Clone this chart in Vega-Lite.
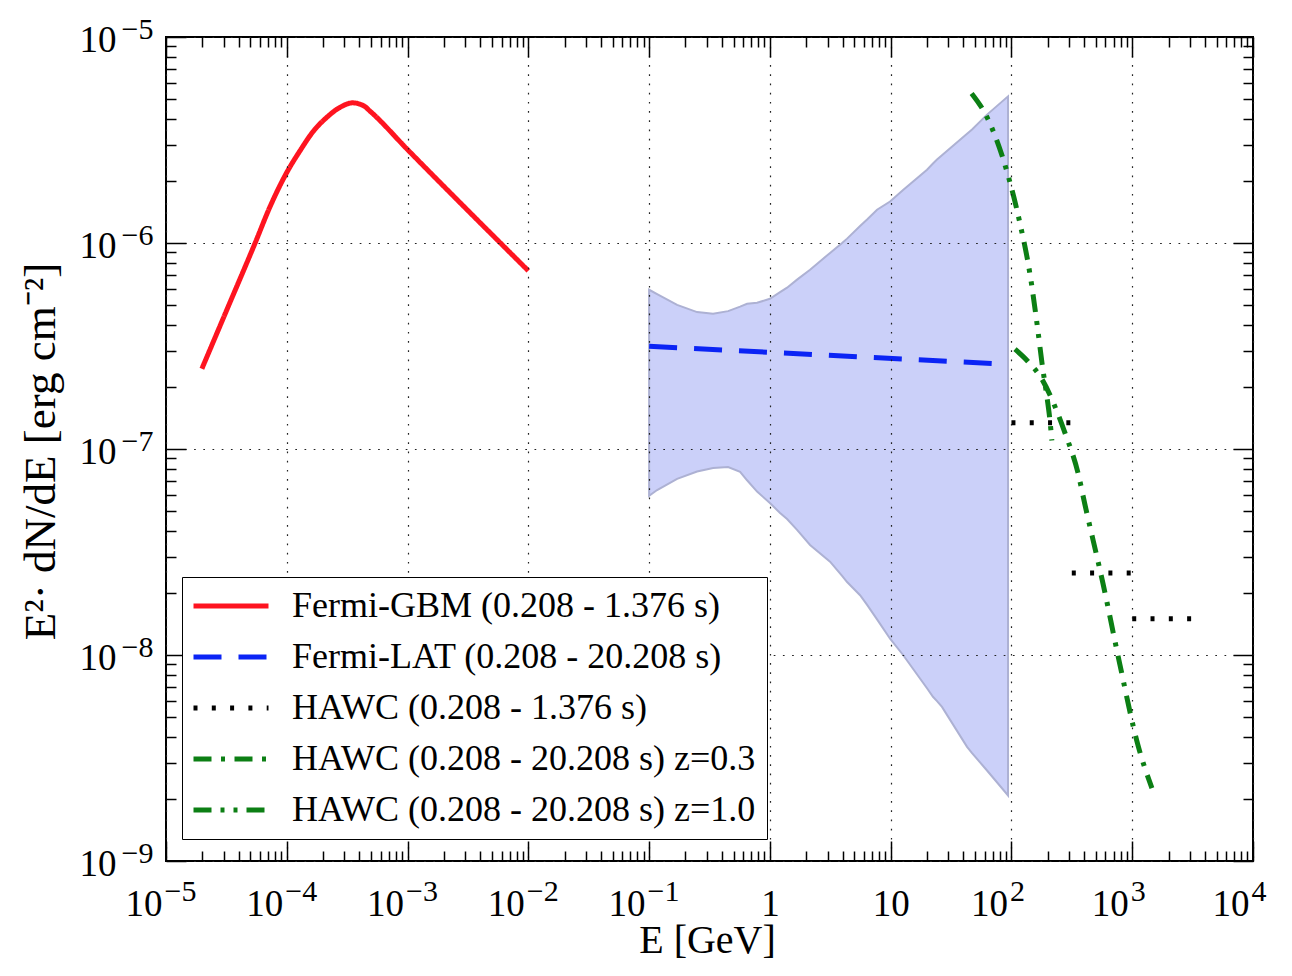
{
  "$schema": "https://vega.github.io/schema/vega-lite/v6.json",
  "width": 1087,
  "height": 824,
  "autosize": {"type": "none"},
  "padding": {"left": 166, "top": 37, "right": 39, "bottom": 115},
  "background": "white",
  "config": {
    "font": "Liberation Serif",
    "view": {"stroke": "black", "strokeWidth": 2},
    "axis": {"labelColor": "black", "titleColor": "black", "tickColor": "black", "tickWidth": 1.5, "domain": false},
    "legend": {
      "orient": "none", "legendX": 16, "legendY": 540,
      "labelFontSize": 36, "labelLimit": 0, "labelColor": "black",
      "symbolType": "M-7.5,0H7.5", "symbolSize": 100, "symbolStrokeWidth": 5,
      "symbolOffset": 20, "labelOffset": 43, "rowPadding": 15, "padding": 11,
      "strokeColor": "black", "fillColor": "white", "cornerRadius": 0
    }
  },
  "datasets": {
    "band": [
      {"E": 0.1, "hi": 5.93e-7, "lo": 5.92e-8},
      {"E": 0.1165, "hi": 5.65e-7, "lo": 6.32e-8},
      {"E": 0.1705, "hi": 5.01e-7, "lo": 7.16e-8},
      {"E": 0.2496, "hi": 4.62e-7, "lo": 7.77e-8},
      {"E": 0.3385, "hi": 4.53e-7, "lo": 8.09e-8},
      {"E": 0.4508, "hi": 4.67e-7, "lo": 8.18e-8},
      {"E": 0.5668, "hi": 4.91e-7, "lo": 7.74e-8},
      {"E": 0.6474, "hi": 5.07e-7, "lo": 7.05e-8},
      {"E": 0.7833, "hi": 5.13e-7, "lo": 6.21e-8},
      {"E": 1.0, "hi": 5.36e-7, "lo": 5.47e-8},
      {"E": 1.214, "hi": 5.77e-7, "lo": 4.89e-8},
      {"E": 1.388, "hi": 6.07e-7, "lo": 4.57e-8},
      {"E": 1.679, "hi": 6.64e-7, "lo": 4.05e-8},
      {"E": 2.151, "hi": 7.42e-7, "lo": 3.42e-8},
      {"E": 3.149, "hi": 8.95e-7, "lo": 2.84e-8},
      {"E": 3.962, "hi": 1.0e-6, "lo": 2.42e-8},
      {"E": 4.357, "hi": 1.05e-6, "lo": 2.26e-8},
      {"E": 5.581, "hi": 1.21e-6, "lo": 1.95e-8},
      {"E": 6.383, "hi": 1.30e-6, "lo": 1.75e-8},
      {"E": 7.714, "hi": 1.45e-6, "lo": 1.49e-8},
      {"E": 9.886, "hi": 1.59e-6, "lo": 1.20e-8},
      {"E": 12.67, "hi": 1.81e-6, "lo": 1.0e-8},
      {"E": 20.0, "hi": 2.27e-6, "lo": 6.90e-9},
      {"E": 22.4, "hi": 2.43e-6, "lo": 6.27e-9},
      {"E": 24.2, "hi": 2.54e-6, "lo": 5.97e-9},
      {"E": 26.6, "hi": 2.67e-6, "lo": 5.60e-9},
      {"E": 42.9, "hi": 3.39e-6, "lo": 3.58e-9},
      {"E": 47.2, "hi": 3.56e-6, "lo": 3.34e-9},
      {"E": 62.8, "hi": 4.20e-6, "lo": 2.75e-9},
      {"E": 93.7, "hi": 5.15e-6, "lo": 2.08e-9}
    ],
    "lines": [
      {"s": "Fermi-GBM (0.208 - 1.376 s)", "seg": 1, "E": 1.98e-5, "F": 2.45e-7},
      {"s": "Fermi-GBM (0.208 - 1.376 s)", "seg": 1, "E": 3.19e-5, "F": 4.74e-7},
      {"s": "Fermi-GBM (0.208 - 1.376 s)", "seg": 1, "E": 5.47e-5, "F": 1.0e-6},
      {"s": "Fermi-GBM (0.208 - 1.376 s)", "seg": 1, "E": 7.3e-5, "F": 1.51e-6},
      {"s": "Fermi-GBM (0.208 - 1.376 s)", "seg": 1, "E": 1.0e-4, "F": 2.2e-6},
      {"s": "Fermi-GBM (0.208 - 1.376 s)", "seg": 1, "E": 1.285e-4, "F": 2.80e-6},
      {"s": "Fermi-GBM (0.208 - 1.376 s)", "seg": 1, "E": 1.655e-4, "F": 3.48e-6},
      {"s": "Fermi-GBM (0.208 - 1.376 s)", "seg": 1, "E": 2.14e-4, "F": 4.07e-6},
      {"s": "Fermi-GBM (0.208 - 1.376 s)", "seg": 1, "E": 2.75e-4, "F": 4.55e-6},
      {"s": "Fermi-GBM (0.208 - 1.376 s)", "seg": 1, "E": 3.51e-4, "F": 4.79e-6},
      {"s": "Fermi-GBM (0.208 - 1.376 s)", "seg": 1, "E": 4.32e-4, "F": 4.64e-6},
      {"s": "Fermi-GBM (0.208 - 1.376 s)", "seg": 1, "E": 4.90e-4, "F": 4.36e-6},
      {"s": "Fermi-GBM (0.208 - 1.376 s)", "seg": 1, "E": 1.0e-3, "F": 2.84e-6},
      {"s": "Fermi-GBM (0.208 - 1.376 s)", "seg": 1, "E": 1.0e-2, "F": 7.33e-7},
      {"s": "Fermi-LAT (0.208 - 20.208 s)", "seg": 1, "E": 0.1, "F": 3.15e-7},
      {"s": "Fermi-LAT (0.208 - 20.208 s)", "seg": 1, "E": 93.7, "F": 2.58e-7},
      {"s": "HAWC (0.208 - 1.376 s)", "seg": 1, "E": 100, "F": 1.34e-7},
      {"s": "HAWC (0.208 - 1.376 s)", "seg": 1, "E": 316, "F": 1.34e-7},
      {"s": "HAWC (0.208 - 1.376 s)", "seg": 2, "E": 316, "F": 2.5e-8},
      {"s": "HAWC (0.208 - 1.376 s)", "seg": 2, "E": 1000, "F": 2.5e-8},
      {"s": "HAWC (0.208 - 1.376 s)", "seg": 3, "E": 1000, "F": 1.5e-8},
      {"s": "HAWC (0.208 - 1.376 s)", "seg": 3, "E": 3162, "F": 1.5e-8},
      {"s": "HAWC (0.208 - 20.208 s) z=0.3", "seg": 1, "E": 107, "F": 3.05e-7},
      {"s": "HAWC (0.208 - 20.208 s) z=0.3", "seg": 1, "E": 137, "F": 2.66e-7},
      {"s": "HAWC (0.208 - 20.208 s) z=0.3", "seg": 1, "E": 179, "F": 2.18e-7},
      {"s": "HAWC (0.208 - 20.208 s) z=0.3", "seg": 1, "E": 229, "F": 1.61e-7},
      {"s": "HAWC (0.208 - 20.208 s) z=0.3", "seg": 1, "E": 277, "F": 1.20e-7},
      {"s": "HAWC (0.208 - 20.208 s) z=0.3", "seg": 1, "E": 355, "F": 7.69e-8},
      {"s": "HAWC (0.208 - 20.208 s) z=0.3", "seg": 1, "E": 406, "F": 5.37e-8},
      {"s": "HAWC (0.208 - 20.208 s) z=0.3", "seg": 1, "E": 573, "F": 2.22e-8},
      {"s": "HAWC (0.208 - 20.208 s) z=0.3", "seg": 1, "E": 791, "F": 8.97e-9},
      {"s": "HAWC (0.208 - 20.208 s) z=0.3", "seg": 1, "E": 1114, "F": 3.66e-9},
      {"s": "HAWC (0.208 - 20.208 s) z=0.3", "seg": 1, "E": 1456, "F": 2.26e-9},
      {"s": "HAWC (0.208 - 20.208 s) z=1.0", "seg": 1, "E": 46.8, "F": 5.32e-6},
      {"s": "HAWC (0.208 - 20.208 s) z=1.0", "seg": 1, "E": 63.8, "F": 4.0e-6},
      {"s": "HAWC (0.208 - 20.208 s) z=1.0", "seg": 1, "E": 91.0, "F": 2.26e-6},
      {"s": "HAWC (0.208 - 20.208 s) z=1.0", "seg": 1, "E": 117.5, "F": 1.25e-6},
      {"s": "HAWC (0.208 - 20.208 s) z=1.0", "seg": 1, "E": 142, "F": 7.13e-7},
      {"s": "HAWC (0.208 - 20.208 s) z=1.0", "seg": 1, "E": 165.5, "F": 3.77e-7},
      {"s": "HAWC (0.208 - 20.208 s) z=1.0", "seg": 1, "E": 180, "F": 2.55e-7},
      {"s": "HAWC (0.208 - 20.208 s) z=1.0", "seg": 1, "E": 196, "F": 1.82e-7},
      {"s": "HAWC (0.208 - 20.208 s) z=1.0", "seg": 1, "E": 208, "F": 1.39e-7},
      {"s": "HAWC (0.208 - 20.208 s) z=1.0", "seg": 1, "E": 216, "F": 1.10e-7}
    ]
  },
  "resolve": {"axis": {"x": "independent", "y": "independent"}},
  "layer": [
    {
      "data": {"name": "band"},
      "mark": {"type": "area", "fill": "#cbd0f9", "stroke": "#adb1d3", "strokeWidth": 2, "opacity": 1},
      "encoding": {
        "x": {"field": "E", "type": "quantitative", "scale": {"type": "log", "domain": [1e-5, 1e4], "nice": false},
          "axis": {"orient": "bottom", "values": [1e-5, 1e-4, 1e-3, 0.01, 0.1, 1, 10, 100, 1000, 10000],
            "labelExpr": "datum.value == 1 ? '1' : '10'",
            "labelAlign": {"condition": {"test": "datum.value == 1 || datum.value == 10", "value": "center"}, "value": "right"},
            "labelOffset": {"condition": {"test": "datum.value == 1 || datum.value == 10", "value": 0}, "value": -4},
            "labelBaseline": "alphabetic", "labelPadding": 54, "labelFontSize": 37,
            "labelFlush": false, "labelOverlap": false, "labelBound": false,
            "ticks": false, "grid": true, "gridDash": [1.7, 7.5], "gridColor": "#222222", "gridWidth": 1.2,
            "title": "E [GeV]", "titleFontSize": 40, "titleFontWeight": "normal",
            "titleX": 541, "titleY": 91, "titleBaseline": "alphabetic", "titleAlign": "center", "zindex": 1}},
        "y": {"field": "hi", "type": "quantitative", "scale": {"type": "log", "domain": [1e-9, 1e-5], "nice": false},
          "axis": {"orient": "left", "values": [1e-9, 1e-8, 1e-7, 1e-6, 1e-5],
            "labelExpr": "'10'", "labelAlign": "right", "labelBaseline": "alphabetic",
            "labelPadding": 50, "labelOffset": 14, "labelFontSize": 37,
            "labelFlush": false, "labelOverlap": false, "labelBound": false,
            "ticks": false, "grid": true, "gridDash": [1.7, 7.5], "gridColor": "#222222", "gridWidth": 1.2,
            "title": "E²· dN/dE [erg cm⁻²]", "titleFontSize": 45, "titleFontWeight": "normal", "titleAngle": -90,
            "titleX": -112, "titleY": 414, "titleBaseline": "alphabetic", "titleAlign": "center", "zindex": 1}},
        "y2": {"field": "lo"}
      }
    },
    {
      "data": {"name": "lines"},
      "transform": [{"filter": "datum.s == 'Fermi-GBM (0.208 - 1.376 s)'"}],
      "mark": {"type": "line", "strokeWidth": 5, "interpolate": "monotone"},
      "encoding": {
        "x": {"field": "E", "type": "quantitative", "scale": {"type": "log", "domain": [1e-5, 1e4], "nice": false},
          "axis": {"orient": "bottom", "values": [1e-5, 1e-4, 1e-3, 0.01, 0.1, 100, 1000, 10000],
            "labelExpr": "(round(log(datum.value)/LN10) < 0 ? '\u2212' : '') + abs(round(log(datum.value)/LN10))",
            "labelAlign": "left", "labelOffset": -2, "labelBaseline": "alphabetic", "labelPadding": 39, "labelFontSize": 30,
            "labelFlush": false, "labelOverlap": false, "labelBound": false,
            "ticks": false, "grid": false, "title": null, "zindex": 1}},
        "y": {"field": "F", "type": "quantitative", "scale": {"type": "log", "domain": [1e-9, 1e-5], "nice": false},
          "axis": {"orient": "left", "values": [1e-9, 1e-8, 1e-7, 1e-6, 1e-5],
            "labelExpr": "'\u2212' + abs(round(log(datum.value)/LN10))",
            "labelAlign": "right", "labelBaseline": "alphabetic", "labelPadding": 13, "labelOffset": 1, "labelFontSize": 30,
            "labelFlush": false, "labelOverlap": false, "labelBound": false,
            "ticks": false, "grid": false, "title": null, "zindex": 1}},
        "color": {"field": "s", "type": "nominal", "legend": {"title": null, "zindex": 2},
          "scale": {"domain": ["Fermi-GBM (0.208 - 1.376 s)", "Fermi-LAT (0.208 - 20.208 s)", "HAWC (0.208 - 1.376 s)", "HAWC (0.208 - 20.208 s) z=0.3", "HAWC (0.208 - 20.208 s) z=1.0"],
            "range": ["#fe1420", "#0b24f5", "#000000", "#0c7f14", "#0c7f14"]}},
        "strokeDash": {"field": "s", "type": "nominal", "legend": {"title": null, "zindex": 2},
          "scale": {"domain": ["Fermi-GBM (0.208 - 1.376 s)", "Fermi-LAT (0.208 - 20.208 s)", "HAWC (0.208 - 1.376 s)", "HAWC (0.208 - 20.208 s) z=0.3", "HAWC (0.208 - 20.208 s) z=1.0"],
            "range": [[1, 0], [28, 17], [4, 14.3], [18, 9.5, 4, 9.5], [18, 9, 4, 9, 4, 9]]}}
      }
    },
    {
      "data": {"name": "lines"},
      "transform": [{"filter": "datum.s == 'Fermi-LAT (0.208 - 20.208 s)'"}],
      "mark": {"type": "line", "strokeWidth": 5},
      "encoding": {
        "x": {"field": "E", "type": "quantitative", "scale": {"type": "log", "domain": [1e-5, 1e4], "nice": false},
          "axis": {"orient": "bottom", "values": [1e-5, 1e-4, 1e-3, 0.01, 0.1, 1, 10, 100, 1000, 10000],
            "labels": false, "ticks": true, "tickSize": -20, "grid": false, "title": null, "zindex": 1}},
        "y": {"field": "F", "type": "quantitative", "scale": {"type": "log", "domain": [1e-9, 1e-5], "nice": false},
          "axis": {"orient": "left", "values": [1e-9, 1e-8, 1e-7, 1e-6, 1e-5],
            "labels": false, "ticks": true, "tickSize": -20, "grid": false, "title": null, "zindex": 1}},
        "color": {"field": "s", "type": "nominal", "legend": {"title": null, "zindex": 2},
          "scale": {"domain": ["Fermi-GBM (0.208 - 1.376 s)", "Fermi-LAT (0.208 - 20.208 s)", "HAWC (0.208 - 1.376 s)", "HAWC (0.208 - 20.208 s) z=0.3", "HAWC (0.208 - 20.208 s) z=1.0"],
            "range": ["#fe1420", "#0b24f5", "#000000", "#0c7f14", "#0c7f14"]}},
        "strokeDash": {"field": "s", "type": "nominal", "legend": {"title": null, "zindex": 2},
          "scale": {"domain": ["Fermi-GBM (0.208 - 1.376 s)", "Fermi-LAT (0.208 - 20.208 s)", "HAWC (0.208 - 1.376 s)", "HAWC (0.208 - 20.208 s) z=0.3", "HAWC (0.208 - 20.208 s) z=1.0"],
            "range": [[1, 0], [28, 17], [4, 14.3], [18, 9.5, 4, 9.5], [18, 9, 4, 9, 4, 9]]}}
      }
    },
    {
      "data": {"name": "lines"},
      "transform": [{"filter": "datum.s == 'HAWC (0.208 - 1.376 s)'"}],
      "mark": {"type": "line", "strokeWidth": 5},
      "encoding": {
        "x": {"field": "E", "type": "quantitative", "scale": {"type": "log", "domain": [1e-5, 1e4], "nice": false},
          "axis": {"orient": "bottom",
            "values": [2e-5, 3e-5, 4e-5, 5e-5, 6e-5, 7e-5, 8e-5, 9e-5, 2e-4, 3e-4, 4e-4, 5e-4, 6e-4, 7e-4, 8e-4, 9e-4, 0.002, 0.003, 0.004, 0.005, 0.006, 0.007, 0.008, 0.009, 0.02, 0.03, 0.04, 0.05, 0.06, 0.07, 0.08, 0.09, 0.2, 0.3, 0.4, 0.5, 0.6, 0.7, 0.8, 0.9, 2, 3, 4, 5, 6, 7, 8, 9, 20, 30, 40, 50, 60, 70, 80, 90, 200, 300, 400, 500, 600, 700, 800, 900, 2000, 3000, 4000, 5000, 6000, 7000, 8000, 9000],
            "labels": false, "ticks": true, "tickSize": -10, "grid": false, "title": null, "zindex": 1}},
        "y": {"field": "F", "type": "quantitative", "scale": {"type": "log", "domain": [1e-9, 1e-5], "nice": false},
          "axis": {"orient": "left",
            "values": [2e-9, 3e-9, 4e-9, 5e-9, 6e-9, 7e-9, 8e-9, 9e-9, 2e-8, 3e-8, 4e-8, 5e-8, 6e-8, 7e-8, 8e-8, 9e-8, 2e-7, 3e-7, 4e-7, 5e-7, 6e-7, 7e-7, 8e-7, 9e-7, 2e-6, 3e-6, 4e-6, 5e-6, 6e-6, 7e-6, 8e-6, 9e-6],
            "labels": false, "ticks": true, "tickSize": -10, "grid": false, "title": null, "zindex": 1}},
        "detail": {"field": "seg", "type": "nominal"},
        "color": {"field": "s", "type": "nominal", "legend": {"title": null, "zindex": 2},
          "scale": {"domain": ["Fermi-GBM (0.208 - 1.376 s)", "Fermi-LAT (0.208 - 20.208 s)", "HAWC (0.208 - 1.376 s)", "HAWC (0.208 - 20.208 s) z=0.3", "HAWC (0.208 - 20.208 s) z=1.0"],
            "range": ["#fe1420", "#0b24f5", "#000000", "#0c7f14", "#0c7f14"]}},
        "strokeDash": {"field": "s", "type": "nominal", "legend": {"title": null, "zindex": 2},
          "scale": {"domain": ["Fermi-GBM (0.208 - 1.376 s)", "Fermi-LAT (0.208 - 20.208 s)", "HAWC (0.208 - 1.376 s)", "HAWC (0.208 - 20.208 s) z=0.3", "HAWC (0.208 - 20.208 s) z=1.0"],
            "range": [[1, 0], [28, 17], [4, 14.3], [18, 9.5, 4, 9.5], [18, 9, 4, 9, 4, 9]]}}
      }
    },
    {
      "data": {"name": "lines"},
      "transform": [{"filter": "datum.s == 'HAWC (0.208 - 20.208 s) z=0.3'"}],
      "mark": {"type": "line", "strokeWidth": 5, "interpolate": "monotone"},
      "encoding": {
        "x": {"field": "E", "type": "quantitative", "scale": {"type": "log", "domain": [1e-5, 1e4], "nice": false},
          "axis": {"orient": "top", "values": [1e-5, 1e-4, 1e-3, 0.01, 0.1, 1, 10, 100, 1000, 10000],
            "labels": false, "ticks": true, "tickSize": -20, "grid": false, "title": null, "zindex": 1}},
        "y": {"field": "F", "type": "quantitative", "scale": {"type": "log", "domain": [1e-9, 1e-5], "nice": false},
          "axis": {"orient": "right", "values": [1e-9, 1e-8, 1e-7, 1e-6, 1e-5],
            "labels": false, "ticks": true, "tickSize": -20, "grid": false, "title": null, "zindex": 1}},
        "color": {"field": "s", "type": "nominal", "legend": {"title": null, "zindex": 2},
          "scale": {"domain": ["Fermi-GBM (0.208 - 1.376 s)", "Fermi-LAT (0.208 - 20.208 s)", "HAWC (0.208 - 1.376 s)", "HAWC (0.208 - 20.208 s) z=0.3", "HAWC (0.208 - 20.208 s) z=1.0"],
            "range": ["#fe1420", "#0b24f5", "#000000", "#0c7f14", "#0c7f14"]}},
        "strokeDash": {"field": "s", "type": "nominal", "legend": {"title": null, "zindex": 2},
          "scale": {"domain": ["Fermi-GBM (0.208 - 1.376 s)", "Fermi-LAT (0.208 - 20.208 s)", "HAWC (0.208 - 1.376 s)", "HAWC (0.208 - 20.208 s) z=0.3", "HAWC (0.208 - 20.208 s) z=1.0"],
            "range": [[1, 0], [28, 17], [4, 14.3], [18, 9.5, 4, 9.5], [18, 9, 4, 9, 4, 9]]}}
      }
    },
    {
      "data": {"name": "lines"},
      "transform": [{"filter": "datum.s == 'HAWC (0.208 - 20.208 s) z=1.0'"}],
      "mark": {"type": "line", "strokeWidth": 5, "interpolate": "monotone"},
      "encoding": {
        "x": {"field": "E", "type": "quantitative", "scale": {"type": "log", "domain": [1e-5, 1e4], "nice": false},
          "axis": {"orient": "top",
            "values": [2e-5, 3e-5, 4e-5, 5e-5, 6e-5, 7e-5, 8e-5, 9e-5, 2e-4, 3e-4, 4e-4, 5e-4, 6e-4, 7e-4, 8e-4, 9e-4, 0.002, 0.003, 0.004, 0.005, 0.006, 0.007, 0.008, 0.009, 0.02, 0.03, 0.04, 0.05, 0.06, 0.07, 0.08, 0.09, 0.2, 0.3, 0.4, 0.5, 0.6, 0.7, 0.8, 0.9, 2, 3, 4, 5, 6, 7, 8, 9, 20, 30, 40, 50, 60, 70, 80, 90, 200, 300, 400, 500, 600, 700, 800, 900, 2000, 3000, 4000, 5000, 6000, 7000, 8000, 9000],
            "labels": false, "ticks": true, "tickSize": -10, "grid": false, "title": null, "zindex": 1}},
        "y": {"field": "F", "type": "quantitative", "scale": {"type": "log", "domain": [1e-9, 1e-5], "nice": false},
          "axis": {"orient": "right",
            "values": [2e-9, 3e-9, 4e-9, 5e-9, 6e-9, 7e-9, 8e-9, 9e-9, 2e-8, 3e-8, 4e-8, 5e-8, 6e-8, 7e-8, 8e-8, 9e-8, 2e-7, 3e-7, 4e-7, 5e-7, 6e-7, 7e-7, 8e-7, 9e-7, 2e-6, 3e-6, 4e-6, 5e-6, 6e-6, 7e-6, 8e-6, 9e-6],
            "labels": false, "ticks": true, "tickSize": -10, "grid": false, "title": null, "zindex": 1}},
        "color": {"field": "s", "type": "nominal", "legend": {"title": null, "zindex": 2},
          "scale": {"domain": ["Fermi-GBM (0.208 - 1.376 s)", "Fermi-LAT (0.208 - 20.208 s)", "HAWC (0.208 - 1.376 s)", "HAWC (0.208 - 20.208 s) z=0.3", "HAWC (0.208 - 20.208 s) z=1.0"],
            "range": ["#fe1420", "#0b24f5", "#000000", "#0c7f14", "#0c7f14"]}},
        "strokeDash": {"field": "s", "type": "nominal", "legend": {"title": null, "zindex": 2},
          "scale": {"domain": ["Fermi-GBM (0.208 - 1.376 s)", "Fermi-LAT (0.208 - 20.208 s)", "HAWC (0.208 - 1.376 s)", "HAWC (0.208 - 20.208 s) z=0.3", "HAWC (0.208 - 20.208 s) z=1.0"],
            "range": [[1, 0], [28, 17], [4, 14.3], [18, 9.5, 4, 9.5], [18, 9, 4, 9, 4, 9]]}}
      }
    }
  ]
}
